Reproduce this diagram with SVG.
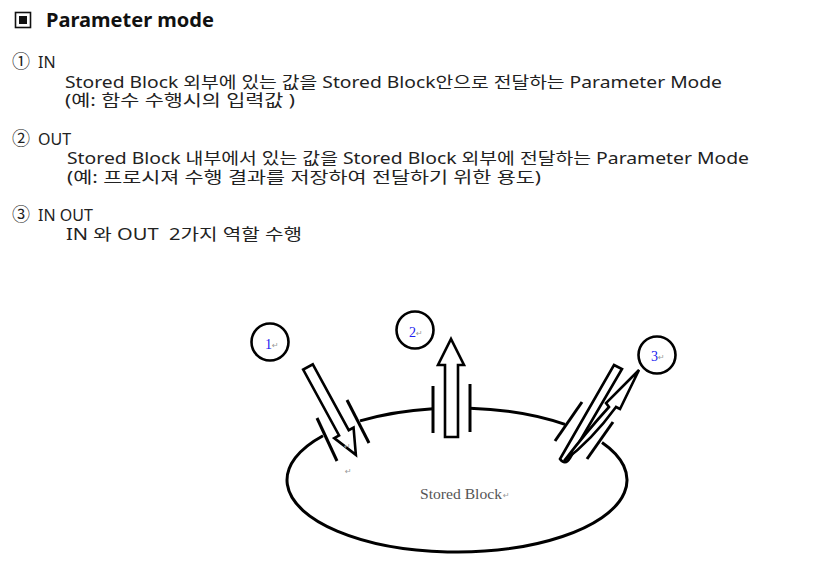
<svg xmlns="http://www.w3.org/2000/svg" width="821" height="572" viewBox="0 0 821 572">
<style>
.t{font-family:"Noto Sans","Noto Sans CJK KR",sans-serif;font-size:16px;fill:#222}
.c{font-size:18px}
.h{font-family:"Noto Sans","Noto Sans CJK KR",sans-serif;font-size:19px;font-weight:bold;fill:#111}
.ln{fill:none;stroke:#000;stroke-width:3}
.sh{fill:#fff;stroke:#000;stroke-width:2.6;stroke-linejoin:miter}
.cir{fill:#fff;stroke:#000;stroke-width:2.6}
.num{font-family:"Liberation Serif",serif;font-size:14px;fill:#2020f0}
.rt{font-family:"DejaVu Sans",sans-serif;font-size:8px;fill:#999}
.sb{font-family:"Liberation Serif",serif;font-size:14px;fill:#555}
</style>
<rect width="821" height="572" fill="#fff"/>
<g id="title">
<rect x="15.5" y="12.5" width="15" height="15" fill="none" stroke="#111" stroke-width="1.6"/>
<rect x="19" y="16" width="8" height="8" fill="#111"/>
<text class="h" x="46" y="27" textLength="168" lengthAdjust="spacingAndGlyphs">Parameter mode</text>
</g>
<g id="text-in">
<text class="t" x="12" y="68"><tspan class="c">①</tspan><tspan x="38">IN</tspan></text>
<text class="t" x="65" y="88" textLength="657" lengthAdjust="spacingAndGlyphs">Stored Block 외부에 있는 값을 Stored Block안으로 전달하는 Parameter Mode</text>
<text class="t" x="65" y="106" textLength="230" lengthAdjust="spacingAndGlyphs">(예: 함수 수행시의 입력값 )</text>
</g>
<g id="text-out">
<text class="t" x="12" y="145"><tspan class="c">②</tspan><tspan x="38">OUT</tspan></text>
<text class="t" x="67" y="164" textLength="682" lengthAdjust="spacingAndGlyphs">Stored Block 내부에서 있는 값을 Stored Block 외부에 전달하는 Parameter Mode</text>
<text class="t" x="67" y="183" textLength="474" lengthAdjust="spacingAndGlyphs">(예: 프로시져 수행 결과를 저장하여 전달하기 위한 용도)</text>
</g>
<g id="text-inout">
<text class="t" x="12" y="221"><tspan class="c">③</tspan><tspan x="38">IN OUT</tspan></text>
<text class="t" x="66" y="240" textLength="236" lengthAdjust="spacingAndGlyphs" xml:space="preserve">IN 와 OUT  2가지 역할 수행</text>
</g>
<g id="stored-block">
<path class="ln" d="M360,420.9 A170,72 0 0,1 433,408.7 M470,408.2 A170,72 0 0,1 565,424.4 M602,442.4 A170,72 0 1,1 323,435.7"/>
<text class="sb" x="420" y="499" textLength="82" lengthAdjust="spacingAndGlyphs">Stored Block</text><text class="rt" x="503" y="498">↵</text>
<text class="rt" x="345" y="474">↵</text>
</g>
<g id="connectors">
<line class="ln" x1="317" y1="418" x2="337" y2="461"/>
<line class="ln" x1="347" y1="400" x2="369" y2="443"/>
<line class="ln" x1="433" y1="386" x2="433" y2="433"/>
<line class="ln" x1="470" y1="384" x2="470" y2="432"/>
<line class="ln" x1="582" y1="402" x2="555" y2="441"/>
<line class="ln" x1="613" y1="422" x2="587" y2="459"/>
<polygon class="sh" transform="translate(308,367) rotate(61.4)" points="0,-5.5 75,-5.5 75,-11 100,0 75,11 75,5.5 0,5.5"/>
<polygon class="sh" points="445,437 445,365 438,365 451,339 464,365 458,365 458,437"/>
<path class="sh" d="M614,365 L622,369 L570,458 Q565,466 560,459 Z"/>
<path class="sh" d="M564,461 Q588,430 609,407 L606,403 L639,370 L620,409 L616,407 Q592,440 564,461 Z"/>
<text class="rt" x="344" y="449">↵</text>
</g>
<g id="node1">
<circle class="cir" cx="270" cy="342" r="18.5"/>
<text class="num" x="265" y="349">1</text><text class="rt" x="272" y="348">↵</text>
</g>
<g id="node2">
<circle class="cir" cx="415" cy="330" r="18.5"/>
<text class="num" x="409" y="337">2</text><text class="rt" x="416" y="336">↵</text>
</g>
<g id="node3">
<circle class="cir" cx="657" cy="355" r="18.5"/>
<text class="num" x="651" y="361">3</text><text class="rt" x="658" y="360">↵</text>
</g>
</svg>
